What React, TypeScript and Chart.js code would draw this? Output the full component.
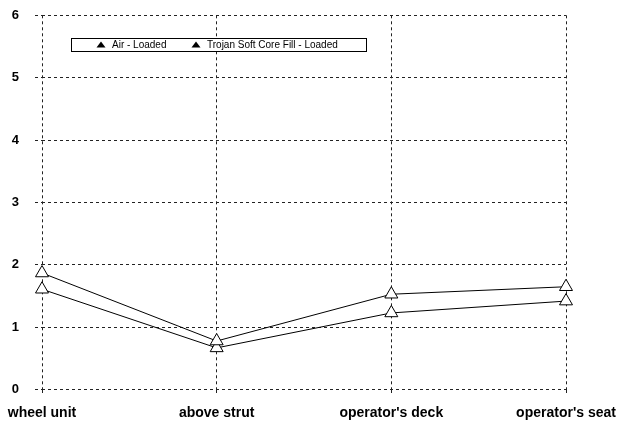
import React, { useEffect, useRef } from "react";
import { Chart, registerables } from "chart.js";

Chart.register(...registerables);

const categories = ["wheel unit", "above strut", "operator's deck", "operator's seat"];
const airLoaded = [1.87, 0.78, 1.53, 1.65];
const trojanLoaded = [1.61, 0.67, 1.23, 1.42];
const seriesNames = ["Air - Loaded", "Trojan Soft Core Fill - Loaded"];
const yTicks = [0, 1, 2, 3, 4, 5, 6];

const FONT = "'Liberation Sans', Arial, sans-serif";

const legendPlugin = {
  id: "insideLegend",
  afterDraw(chart: any) {
    const ctx = chart.ctx as CanvasRenderingContext2D;
    const x0 = 71, y0 = 38, w = 295, h = 13;
    ctx.save();
    ctx.fillStyle = "#fff";
    ctx.fillRect(x0, y0, w, h);
    ctx.strokeStyle = "#000";
    ctx.lineWidth = 1;
    ctx.strokeRect(x0 + 0.5, y0 + 0.5, w, h);
    const cy = y0 + h / 2 + 0.5;
    const items = [
      { mx: 101, tx: 112, label: seriesNames[0] },
      { mx: 196, tx: 207, label: seriesNames[1] },
    ];
    ctx.font = `10px ${FONT}`;
    ctx.textBaseline = "middle";
    ctx.textAlign = "left";
    for (const it of items) {
      ctx.fillStyle = "#000";
      ctx.beginPath();
      ctx.moveTo(it.mx, cy - 3.5);
      ctx.lineTo(it.mx + 4.5, cy + 2.5);
      ctx.lineTo(it.mx - 4.5, cy + 2.5);
      ctx.closePath();
      ctx.fill();
      ctx.fillText(it.label, it.tx, cy);
    }
    ctx.restore();
  },
};

export default function App() {
  const ref = useRef<HTMLCanvasElement | null>(null);
  useEffect(() => {
    if (!ref.current) return;
    const mk = (label: string, data: number[]) => ({
      label,
      data,
      borderColor: "#000",
      borderWidth: 1,
      pointStyle: "triangle" as const,
      pointRadius: 7.5,
      pointBackgroundColor: "#fff",
      pointBorderColor: "#000",
      pointBorderWidth: 1,
      fill: false,
      tension: 0,
    });
    const chart = new Chart(ref.current, {
      type: "line",
      data: {
        labels: categories,
        datasets: [mk(seriesNames[0], airLoaded), mk(seriesNames[1], trojanLoaded)],
      },
      options: {
        responsive: false,
        animation: false,
        layout: { padding: { top: 15.3, right: 53, left: 0, bottom: 0 } },
        plugins: {
          legend: { display: false },
          tooltip: { enabled: false },
        },
        scales: {
          x: {
            offset: false,
            grid: {
              color: "#222",
              lineWidth: 1,
              tickLength: 4,
              tickBorderDash: [3, 3],
            },
            border: { display: false, dash: [3, 3] },
            ticks: {
              color: "#000",
              padding: 11,
              maxRotation: 0,
              font: { family: FONT, size: 14, weight: "bold" },
            },
            afterFit: (s: any) => {
              s.height = 34.3;
              s.paddingLeft = 0;
              s.paddingRight = 0;
              s.paddingTop = 0;
              s.paddingBottom = 0;
            },
          },
          y: {
            min: 0,
            max: 6,
            afterBuildTicks: (s: any) => {
              s.ticks = yTicks.map((v) => ({ value: v }));
            },
            grid: {
              color: "#222",
              lineWidth: 1,
              tickLength: 7,
              tickBorderDash: [3, 3],
            },
            border: { display: false, dash: [3, 3] },
            ticks: {
              color: "#000",
              padding: 16,
              font: { family: FONT, size: 13, weight: "bold" },
            },
            afterFit: (s: any) => {
              s.width = 42;
              s.paddingLeft = 0;
              s.paddingRight = 0;
              s.paddingTop = 0;
              s.paddingBottom = 0;
            },
          },
        },
      },
      plugins: [legendPlugin],
    });
    return () => chart.destroy();
  }, []);
  return (
    <div style={{ position: "absolute", left: 0, top: 0, width: 619, height: 424, background: "#fff" }}>
      <canvas ref={ref} width={619} height={424} />
    </div>
  );
}
